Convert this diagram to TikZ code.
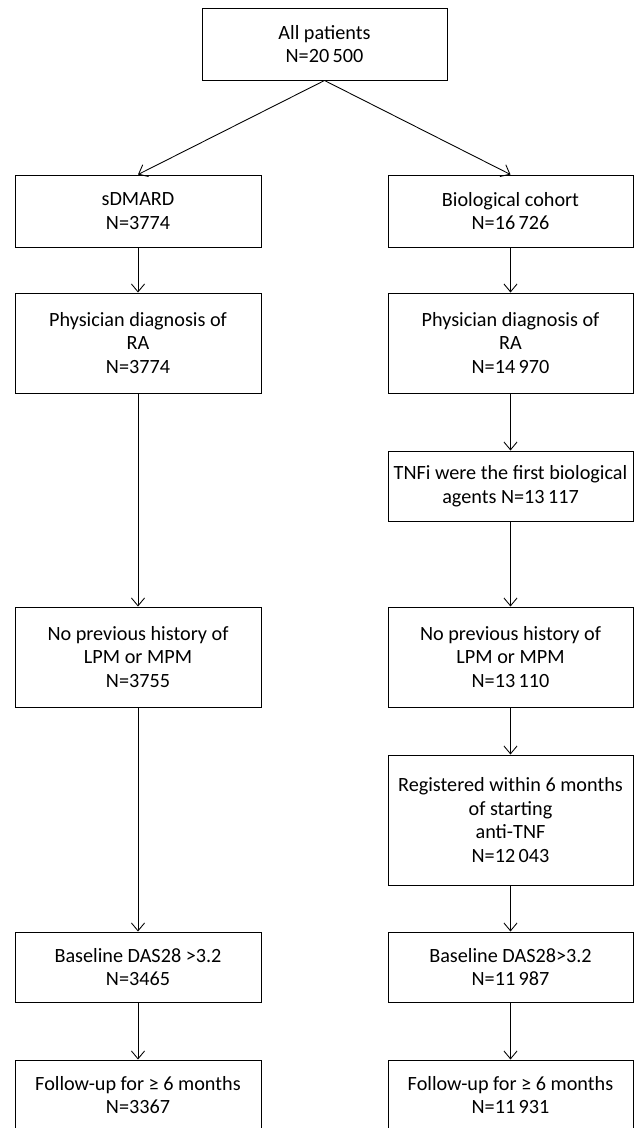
\documentclass[tikz,border=0pt]{standalone}
\usepackage{fontspec}
\setmainfont{Carlito}
\usetikzlibrary{arrows.meta}

\tikzset{
  flowbox/.style={draw, line width=0.55pt, align=center, inner sep=2pt,
    font=\fontsize{11.5}{13.6}\selectfont},
  flowarrow/.style={line width=0.5pt, -{Straight Barb[length=4.5pt,width=7.5pt]}}
}

\begin{document}
\begin{tikzpicture}
                \useasboundingbox (0,0) rectangle (12.70,-22.56);

                % Top box
                \node[flowbox, minimum width=4.90cm, minimum height=1.44cm] (all) at (6.49,-0.88) {All patients\\N=20\,500};

                % sDMARD branch (left)
                \node[flowbox, minimum width=4.92cm, minimum height=1.44cm] (sdm) at (2.76,-4.22) {sDMARD\\N=3774};
                \node[flowbox, minimum width=4.92cm, minimum height=2.00cm] (sdmra) at (2.76,-6.86) {Physician diagnosis of\\RA\\N=3774};
                \node[flowbox, minimum width=4.92cm, minimum height=2.00cm] (sdmlpm) at (2.76,-13.14) {No previous history of\\LPM or MPM\\N=3755};
                \node[flowbox, minimum width=4.92cm, minimum height=1.40cm] (sdmdas) at (2.76,-19.34) {Baseline DAS28 >3.2\\N=3465};
                \node[flowbox, minimum width=4.92cm, minimum height=1.40cm] (sdmfu) at (2.76,-21.90) {Follow-up for ≥ 6 months\\N=3367};

                % Biological branch (right)
                \node[flowbox, minimum width=4.90cm, minimum height=1.44cm] (bio) at (10.21,-4.22) {Biological cohort\\N=16\,726};
                \node[flowbox, minimum width=4.90cm, minimum height=2.00cm] (biora) at (10.21,-6.86) {Physician diagnosis of\\RA\\N=14\,970};
                \node[flowbox, minimum width=4.90cm, minimum height=1.40cm] (biotnf) at (10.21,-9.72) {TNFi were the first biological\\agents N=13\,117};
                \node[flowbox, minimum width=4.90cm, minimum height=2.00cm] (biolpm) at (10.21,-13.14) {No previous history of\\LPM or MPM\\N=13\,110};
                \node[flowbox, minimum width=4.90cm, minimum height=2.60cm] (bioreg) at (10.21,-16.40) {Registered within 6 months\\of starting\\anti-TNF\\N=12\,043};
                \node[flowbox, minimum width=4.90cm, minimum height=1.40cm] (biodas) at (10.21,-19.34) {Baseline DAS28>3.2\\N=11\,987};
                \node[flowbox, minimum width=4.90cm, minimum height=1.40cm] (biofu) at (10.21,-21.90) {Follow-up for ≥ 6 months\\N=11\,931};

                % Split
                \draw[flowarrow] (all.south) -- (sdm.north);
                \draw[flowarrow] (all.south) -- (bio.north);

                % Left chain
                \draw[flowarrow] (sdm) -- (sdmra);
                \draw[flowarrow] (sdmra) -- (sdmlpm);
                \draw[flowarrow] (sdmlpm) -- (sdmdas);
                \draw[flowarrow] (sdmdas) -- (sdmfu);

                % Right chain
                \draw[flowarrow] (bio) -- (biora);
                \draw[flowarrow] (biora) -- (biotnf);
                \draw[flowarrow] (biotnf) -- (biolpm);
                \draw[flowarrow] (biolpm) -- (bioreg);
                \draw[flowarrow] (bioreg) -- (biodas);
                \draw[flowarrow] (biodas) -- (biofu);
            \end{tikzpicture}
\end{document}
